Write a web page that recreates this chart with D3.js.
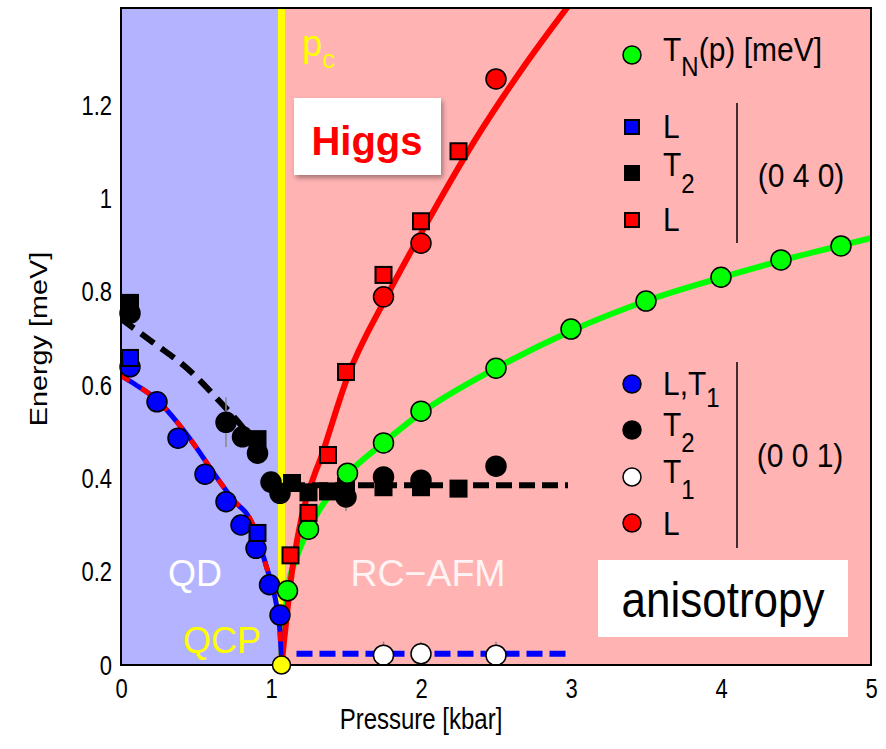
<!DOCTYPE html>
<html><head><meta charset="utf-8">
<script src="https://cdn.jsdelivr.net/npm/d3@7"></script>
<style>body{margin:0;background:#fff}svg text{font-family:"Liberation Sans",Arial,sans-serif}</style>
</head><body><svg id="c" width="886" height="749"></svg>
<script>
// ---- data (pressure [kbar], energy [meV]) ----
const pc = 1.07;
const xTicks = [0,1,2,3,4,5];
const xTickLabels = ["0","1","2","3","4","5"];
const yTicks = [0,0.2,0.4,0.6,0.8,1.0,1.2];
const yTickLabels = ["0","0.2","0.4","0.6","0.8","1","1.2"];

const tnPoints = [[1.11,0.159],[1.25,0.291],[1.51,0.411],[1.75,0.476],[2.0,0.544],[2.5,0.636],[3.0,0.72],[3.5,0.78],[4.0,0.831],[4.4,0.868],[4.8,0.898]];
const sqBlueL = [[0.06,0.658],[0.91,0.283]];
const sqBlackT2 = [[0.06,0.776],[0.91,0.484],[1.14,0.39],[1.25,0.37],[1.38,0.372],[1.5,0.383],[1.75,0.381],[2.0,0.381],[2.25,0.378]];
const sqRedL = [[1.13,0.235],[1.25,0.326],[1.38,0.45],[1.5,0.628],[1.75,0.836],[2.0,0.951],[2.25,1.101]];
const cBlueLT1 = [[0.06,0.639],[0.24,0.564],[0.38,0.486],[0.56,0.409],[0.70,0.35],[0.80,0.30],[0.90,0.25],[0.99,0.172],[1.06,0.107]];
const cBlackT2 = [[0.06,0.754],[0.70,0.52],[0.81,0.489],[0.91,0.454],[1.0,0.392],[1.06,0.368],[1.5,0.36],[1.75,0.403],[2.0,0.396],[2.5,0.426]];
const cWhiteT1 = [[1.75,0.021],[2.0,0.024],[2.5,0.021]];
const cRedL = [[1.75,0.789],[2.0,0.904],[2.5,1.256]];
const qcp = [[pc,0]];
// error bars [p, low, high]
const errBars = [[0.70,0.467,0.574],[1.5,0.33,0.40],[1.75,0.021,0.05],[2.0,0.024,0.05],[2.5,0.021,0.05]];

// guide / fit curves
const curveGap = [[0,0.62],[0.1,0.6],[0.24,0.568],[0.38,0.518],[0.5,0.467],[0.62,0.41],[0.74,0.357],[0.88,0.3],[0.97,0.21],[1.03,0.14],[1.06,0.07],[1.07,0]];
const curveT2left = [[0,0.742],[0.21,0.692],[0.44,0.636],[0.66,0.564],[0.81,0.51],[0.95,0.45]];
const curveT2right = [[1.12,0.385],[2.98,0.385]];
const curveT1right = [[1.17,0.024],[2.98,0.024]];
const curveHiggs = [[1.07,0],[1.09,0.06],[1.11,0.12],[1.14,0.2],[1.2,0.31],[1.35,0.46],[1.51,0.617],[1.77,0.789],[2.0,0.925],[2.36,1.125],[2.68,1.28],[3.0,1.42]];
const curveTN = [[1.07,0],[1.09,0.08],[1.11,0.16],[1.17,0.23],[1.25,0.29],[1.5,0.405],[1.75,0.476],[2.0,0.54],[2.5,0.636],[3.0,0.716],[3.5,0.78],[4.0,0.83],[4.5,0.875],[5.0,0.915]];

// ---- drawing ----
const svg = d3.select("#c");
const x = d3.scaleLinear([0,5],[121,871]);
const y = d3.scaleLinear([0,1.408],[665,8]);
const L = x(0), R = x(5), T = y(1.408), B = y(0);

svg.append("rect").attr("x",L).attr("y",T).attr("width",x(pc)-L).attr("height",B-T).attr("fill","#b3b3ff");
svg.append("rect").attr("x",x(pc)).attr("y",T).attr("width",R-x(pc)).attr("height",B-T).attr("fill","#ffb3b3");
svg.append("line").attr("x1",x(pc)).attr("x2",x(pc)).attr("y1",T).attr("y2",B).attr("stroke","#ffff00").attr("stroke-width",7);

const line = d3.line().x(d=>x(d[0])).y(d=>y(d[1])).curve(d3.curveMonotoneX);
const defs = svg.append("defs");
defs.append("clipPath").attr("id","clip").append("rect").attr("x",L).attr("y",T).attr("width",R-L).attr("height",B-T);
const g = svg.append("g").attr("clip-path","url(#clip)");

g.append("path").attr("d",line(curveTN)).attr("fill","none").attr("stroke","#00ff00").attr("stroke-width",6);
g.append("path").attr("d",line(curveHiggs)).attr("fill","none").attr("stroke","#ff0000").attr("stroke-width",6);
g.append("path").attr("d",line(curveGap)).attr("fill","none").attr("stroke","#0000ff").attr("stroke-width",5);
g.append("path").attr("d",line(curveGap)).attr("fill","none").attr("stroke","#ff0000").attr("stroke-width",5).attr("stroke-dasharray","10 14");
g.append("path").attr("d",line(curveT2left)).attr("fill","none").attr("stroke","#000").attr("stroke-width",6).attr("stroke-dasharray","16 9");
g.append("path").attr("d",line(curveT2right)).attr("fill","none").attr("stroke","#000").attr("stroke-width",6).attr("stroke-dasharray","16 7");
g.append("path").attr("d",line(curveT1right)).attr("fill","none").attr("stroke","#0000ff").attr("stroke-width",6).attr("stroke-dasharray","16 7");

svg.append("g").selectAll("line").data(errBars).join("line")
  .attr("x1",d=>x(d[0])).attr("x2",d=>x(d[0])).attr("y1",d=>y(d[1])).attr("y2",d=>y(d[2]))
  .attr("stroke","#888").attr("stroke-width",1.5);

function squares(data, fill){
  svg.append("g").selectAll("rect").data(data).join("rect")
    .attr("x",d=>x(d[0])-8).attr("y",d=>y(d[1])-8).attr("width",16).attr("height",16)
    .attr("fill",fill).attr("stroke","#000").attr("stroke-width",2);
}
function circles(data, fill, r){
  svg.append("g").selectAll("circle").data(data).join("circle")
    .attr("cx",d=>x(d[0])).attr("cy",d=>y(d[1])).attr("r",r||10)
    .attr("fill",fill).attr("stroke","#000").attr("stroke-width",1.5);
}
squares(sqBlackT2,"#000");
circles(cBlackT2,"#000");
circles(cBlueLT1,"#0000ff");
squares(sqBlueL,"#0000ff");
circles(tnPoints,"#00ff00");
squares(sqRedL,"#ff0000");
circles(cRedL,"#ff0000");
circles(cWhiteT1,"#ffffff");

// frame
svg.append("rect").attr("x",L).attr("y",T).attr("width",R-L).attr("height",B-T).attr("fill","none").attr("stroke","#000").attr("stroke-width",2);
circles(qcp,"#ffff00",9);

// stretched text helper (original figure is vertically stretched)
function stext(parent, px, py, sx, sy, size, str, anchor, fill){
  const gg = parent.append("g").attr("transform",`translate(${px},${py}) scale(${sx},${sy})`);
  const t = gg.append("text").attr("x",0).attr("y",0).attr("font-size",size).attr("text-anchor",anchor||"start").attr("fill",fill||"#000");
  if(str!==null) t.text(str);
  return t;
}

// axes
const ax = svg.append("g").attr("transform",`translate(0,${B})`)
  .call(d3.axisBottom(x).tickValues(xTicks).tickSize(0).tickPadding(0).tickFormat((d,i)=>xTickLabels[i]));
const ay = svg.append("g").attr("transform",`translate(${L},0)`)
  .call(d3.axisLeft(y).tickValues(yTicks).tickSize(0).tickPadding(9).tickFormat((d,i)=>yTickLabels[i]));
[ax,ay].forEach(a=>{a.select(".domain").remove();a.selectAll("text").attr("font-size",22).attr("font-family","Liberation Sans, Arial, sans-serif").attr("fill","#000");});
ax.selectAll("text").attr("y",0).attr("dy",0).attr("transform","translate(0,33) scale(1,1.28)");
ay.selectAll("text").attr("transform","scale(1,1.28)");
stext(svg,(L+R)/2-75,729,1,1.25,24,"Pressure [kbar]","middle");
svg.append("text").attr("transform",`translate(47,339) rotate(-90) scale(1.2,1)`).attr("text-anchor","middle").attr("font-size",24).text("Energy [meV]");

// region labels
svg.append("text").attr("x",195).attr("y",586).attr("text-anchor","middle").attr("font-size",36).attr("fill","#fff").text("QD");
svg.append("text").attr("x",428).attr("y",586).attr("text-anchor","middle").attr("font-size",37.5).attr("fill","#fff").attr("fill-opacity",0.85).text("RC\u2212AFM");
svg.append("text").attr("x",222).attr("y",653).attr("text-anchor","middle").attr("font-size",36).attr("fill","#ffff00").text("QCP");
const pcT = svg.append("text").attr("x",302).attr("y",56).attr("font-size",36).attr("fill","#ffff00");
pcT.append("tspan").text("p");
pcT.append("tspan").attr("dy",12).attr("font-size",26).text("c");

// boxes
const flt = defs.append("filter").attr("id","sh").attr("x","-10%").attr("y","-10%").attr("width","130%").attr("height","140%");
flt.append("feDropShadow").attr("dx",2).attr("dy",3).attr("stdDeviation",2.5).attr("flood-color","#000").attr("flood-opacity",0.35);
svg.append("rect").attr("x",294).attr("y",98).attr("width",147).attr("height",77).attr("fill","#fff").attr("filter","url(#sh)");
svg.append("text").attr("x",367).attr("y",155).attr("text-anchor","middle").attr("font-family","Lato, sans-serif").attr("font-weight","bold").attr("font-size",40).attr("fill","#ff0000").text("Higgs");
svg.append("rect").attr("x",598).attr("y",560).attr("width",250).attr("height",77).attr("fill","#fff");
stext(svg,723,617,1,1.12,44,"anisotropy","middle").attr("font-family","Lato, sans-serif");

// legend
const leg = svg.append("g");
const lx = 632, tx = 663, SY = 1.12;
function legText(yb, main, sub, sup, subDy){
  const t = stext(leg, tx, yb, 1, SY, 30, null);
  t.append("tspan").text(main);
  if(sub){ t.append("tspan").attr("dy",subDy||12).attr("font-size",24).text(sub);
    if(sup) t.append("tspan").attr("dy",-(subDy||12)).attr("font-size",30).text(sup); }
  return t;
}
leg.append("circle").attr("cx",lx).attr("cy",55).attr("r",9).attr("fill","#00ff00").attr("stroke","#000").attr("stroke-width",1.5);
legText(61,"T","N","(p) [meV]",13);
const sq040 = [["#0000ff",127,"L",null,11],["#000",173,"T","2",3],["#ff0000",220,"L",null,11]];
sq040.forEach(d=>{
  leg.append("rect").attr("x",lx-7).attr("y",d[1]-7).attr("width",14).attr("height",14).attr("fill",d[0]).attr("stroke","#000").attr("stroke-width",2);
  legText(d[1]+d[4],d[2],d[3],null,15);
});
leg.append("line").attr("x1",737).attr("x2",737).attr("y1",103).attr("y2",243).attr("stroke","#000").attr("stroke-width",1.5);
stext(leg,801,187,1,SY,30,"(0 4 0)","middle");
const c001 = [["#0000ff",384,"L,T","1",11],["#000",430,"T","2",6],["#fff",477,"T","1",6],["#ff0000",523,"L",null,12]];
c001.forEach(d=>{
  leg.append("circle").attr("cx",lx).attr("cy",d[1]).attr("r",9).attr("fill",d[0]).attr("stroke","#000").attr("stroke-width",1.5);
  legText(d[1]+d[4],d[2],d[3],null,d[3]==="1"&&d[2]==="L,T"?11:14);
});
leg.append("line").attr("x1",737).attr("x2",737).attr("y1",362).attr("y2",548).attr("stroke","#000").attr("stroke-width",1.5);
stext(leg,800,467,1,SY,30,"(0 0 1)","middle");
</script></body></html>
